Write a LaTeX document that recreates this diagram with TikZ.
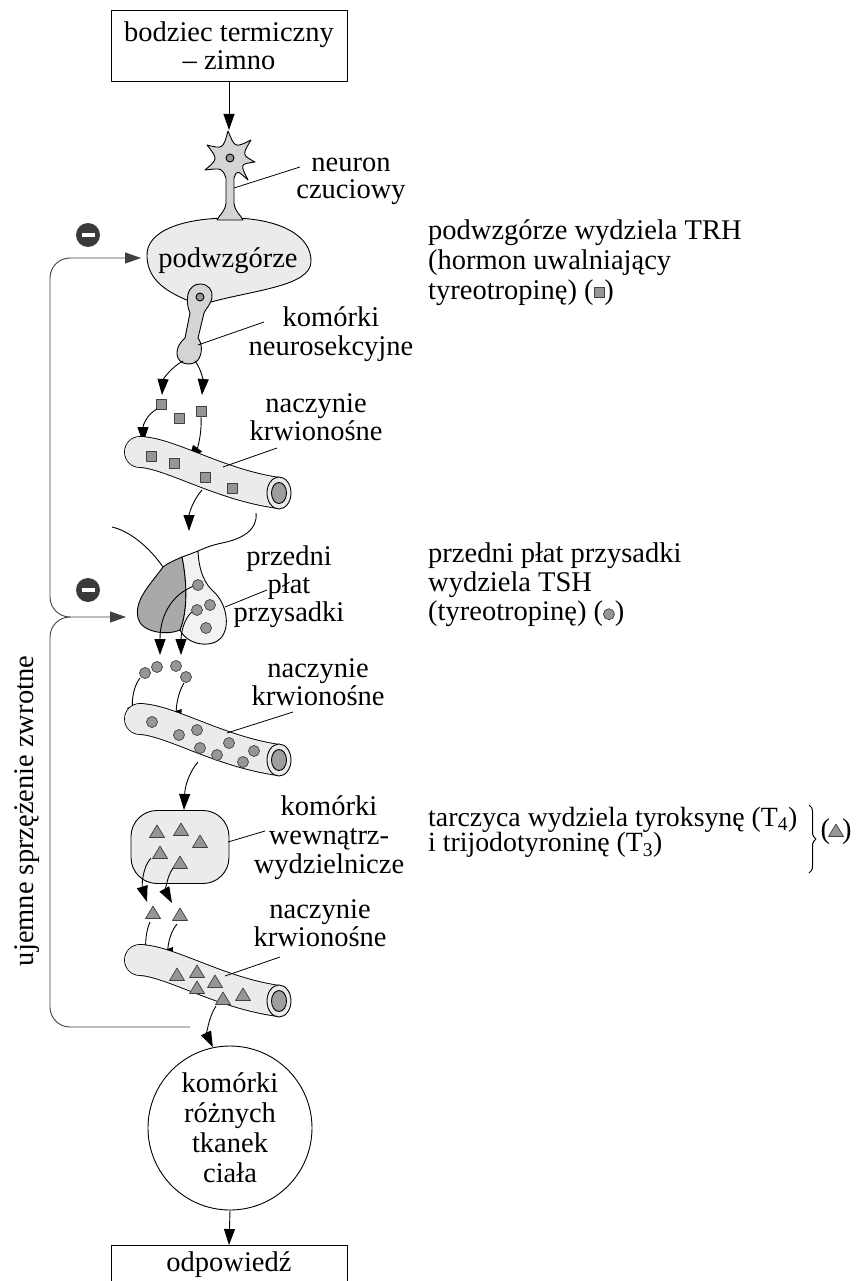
\documentclass[tikz,border=0pt]{standalone}
\usepackage{fontspec}
\setmainfont{Liberation Serif}
\usetikzlibrary{arrows.meta,calc,decorations.pathreplacing}

\definecolor{pale}{HTML}{EBEBEB}
\definecolor{cellgray}{HTML}{D4D4D4}
\definecolor{lobelight}{HTML}{F2F2F2}
\definecolor{lobedark}{HTML}{A9A9A9}
\definecolor{grain}{HTML}{969696}
\definecolor{lumen}{HTML}{9E9E9E}
\definecolor{minusdark}{HTML}{3A3A3A}

\tikzset{
  ol/.style={line width=0.9pt},
  grainstyle/.style={line width=0.7pt, draw=black!75, fill=grain},
  txt/.style={font=\fontsize{28.5}{#1}\selectfont, inner sep=0pt},
  txt/.default=29,
  arr/.style={line width=0.9pt, -{Triangle[length=16pt,width=11pt]}},
  lead/.style={line width=0.8pt},
  fb/.style={line width=1pt, draw=black!75, rounded corners=20pt},
}

\newcommand\topstrut{\rule{0pt}{20pt}}
% hormone particles (y grows downwards)
\newcommand\hsq[2]{\draw[grainstyle] (#1-5,#2-5) rectangle (#1+5,#2+5);}
\newcommand\hci[2]{\draw[grainstyle] (#1,#2) circle (5.5);}
\newcommand\htr[2]{\draw[grainstyle] (#1,#2-7) -- (#1+7.5,#2+5.5) -- (#1-7.5,#2+5.5) -- cycle;}
% blood vessel, moved down by #1
\newcommand\vessel[1]{%
  \begin{scope}[shift={(0,#1)}]
    \draw[ol, fill=pale] (140,452) circle (15.45);
    \draw[line width=31.8pt] (140,452) .. controls (170,453) and (220,485) .. (279,493);
    \draw[line width=30pt, pale] (140,452) .. controls (170,453) and (220,485) .. (279,493);
    \fill[pale] (140,452) circle (15);
    \draw[ol, fill=pale] (279,493) ellipse (12 and 16);
    \draw[ol, fill=lumen] (279,493) ellipse (7.5 and 10.5);
  \end{scope}}

\begin{document}
\begin{tikzpicture}[x=1pt,y=-1pt,line join=round]
\useasboundingbox (0,0) rectangle (855,1281);
\clip (0,0) rectangle (855,1281);

% ---------- stimulus ----------
\node[txt=28, draw, ol, minimum width=236pt, minimum height=71pt, align=center]
  (stim) at (229,45.5) {\topstrut bodziec termiczny\\– zimno};
\coordinate (neuronTop) at (229,130);
\draw[arr] (stim.south) -- (neuronTop);

% ---------- hypothalamus ----------
\draw[ol, fill=pale] (147,257) .. controls (145,230) and (185,218) .. (230,218)
  .. controls (280,218) and (312,236) .. (311,262)
  .. controls (310,286) and (255,290) .. (211,302)
  -- (189,301) .. controls (170,293) and (148,282) .. (147,257) -- cycle;
\node[txt, anchor=base] (hypo) at (228,267) {podwzgórze};
\coordinate (hypoIn) at (141,258);

% sensory neuron
\draw[ol, fill=cellgray] (228,131) .. controls (235,148) .. (251,140)
  .. controls (242,155) .. (255,162)
  .. controls (240,164) .. (248,180)
  .. controls (237,170) .. (234,178) -- (234,203)
  .. controls (235,212) and (240,214) .. (243,220) -- (217,220)
  .. controls (220,214) and (225,212) .. (226,203) -- (226,178)
  .. controls (222,168) .. (205,170)
  .. controls (218,159) .. (207,145)
  .. controls (223,149) .. (228,131) -- cycle;
\draw[ol, fill=grain] (230,158) circle (4);
\coordinate (nrnPt) at (234,188);
\coordinate (nrnLblPt) at (300,167);
\draw[lead] (nrnPt) -- (nrnLblPt);
\node[txt=27, anchor=north, align=center] (nrnLbl) at (351,151) {\topstrut neuron\\czuciowy};

% neurosecretory cell
\draw[ol, fill=cellgray] (200,284) .. controls (208,284) and (213,290) .. (212,297)
  .. controls (211,305) and (206,308) .. (204,313) -- (198,338)
  .. controls (202,343) and (203,353) .. (198,360)
  .. controls (193,366) and (181,365) .. (178,358)
  .. controls (175,351) and (179,343) .. (185,338) -- (190,313)
  .. controls (187,307) and (187,299) .. (188,294)
  .. controls (190,287) and (195,284) .. (200,284) -- cycle;
\draw[ol, fill=grain] (200,297) circle (4);
\coordinate (nsPt) at (198,345);
\coordinate (nsLblPt) at (264,322);
\draw[lead] (nsPt) -- (nsLblPt);
\node[txt, anchor=north, align=center] (nsLbl) at (331,306) {\topstrut komórki\\neurosekcyjne};

% TRH release
\draw[arr] (183,361) .. controls (170,368) and (163,380) .. (162,395);
\draw[arr] (195,361) .. controls (202,370) and (203,382) .. (202,395);
\hsq{161}{404} \hsq{179}{418} \hsq{201}{411}
\draw[arr] (157,409) .. controls (146,415) and (143,426) .. (143,443);
\draw[arr] (201,417) .. controls (202,435) and (197,449) .. (188,461);

% ---------- vessel 1 ----------
\vessel{0}
\hsq{151}{456} \hsq{174}{463} \hsq{205}{477} \hsq{232}{488}
\coordinate (v1Pt) at (223,467);
\coordinate (v1LblPt) at (277,448);
\draw[lead] (v1Pt) -- (v1LblPt);
\node[txt=28, anchor=north, align=center] (v1Lbl) at (316,392) {\topstrut naczynie\\krwionośne};
\coordinate (v1Out) at (202,490);
\coordinate (pitIn) at (189,531);
\draw[arr] (v1Out) .. controls (193,500) and (189,514) .. (pitIn);

% ---------- anterior pituitary ----------
\draw[ol] (112,527) .. controls (130,531) and (150,548) .. (163,567);
\draw[ol] (256,513) .. controls (258,530) and (242,539) .. (222,543)
  .. controls (208,546) and (203,549) .. (198,551);
\draw[ol, fill=lobedark] (163,567) .. controls (150,585) and (134,600) .. (138,618)
  .. controls (141,632) and (166,636) .. (180,630)
  .. controls (188,612) and (187,580) .. (182,557)
  .. controls (175,560) and (168,563) .. (163,567) -- cycle;
\draw[ol, fill=lobelight] (182,557) .. controls (188,555) and (193,553) .. (198,551)
  .. controls (199,572) and (205,584) .. (214,592)
  .. controls (226,603) and (231,626) .. (221,638)
  .. controls (212,648) and (188,646) .. (180,630)
  .. controls (188,612) and (187,580) .. (182,557) -- cycle;
\hci{198}{585} \hci{210}{605} \hci{197}{610} \hci{206}{628}
\draw[arr] (192.6,586.5) .. controls (172,595) and (160,615) .. (160,655);
\draw[arr] (191.7,612) .. controls (183,620) and (181,635) .. (181,655);
\coordinate (pitPt) at (225,607);
\coordinate (pitLblPt) at (267,590);
\draw[lead] (pitPt) -- (pitLblPt);
\node[txt=28, anchor=north, align=center] (pitLbl) at (289,545) {\topstrut przedni\\płat\\przysadki};

% TSH release
\hci{145}{673} \hci{157}{667} \hci{176}{666} \hci{186}{677}
\draw[arr] (140,678) .. controls (132,688) and (132,705) .. (138,721);
\draw[arr] (184,683) .. controls (177,694) and (176,710) .. (181,726);

% ---------- vessel 2 ----------
\vessel{267}
\hci{152}{722} \hci{179}{735} \hci{197}{730} \hci{200}{748}
\hci{217}{755} \hci{229}{743} \hci{243}{762} \hci{254}{751}
\coordinate (v2Pt) at (227,733);
\coordinate (v2LblPt) at (293,712);
\draw[lead] (v2Pt) -- (v2LblPt);
\node[txt=28, anchor=north, align=center] (v2Lbl) at (318,657) {\topstrut naczynie\\krwionośne};

% ---------- thyroid cells ----------
\node[draw, ol, fill=pale, rounded corners=26pt, minimum width=98pt, minimum height=73pt, inner sep=0pt]
  (endo) at (180,847) {};
\coordinate (v2Out) at (198,762);
\coordinate (endoIn) at (184,810);
\draw[arr] (v2Out) .. controls (190,771) and (185,785) .. (endoIn);
\htr{157}{832} \htr{181}{830} \htr{200}{842} \htr{160}{853} \htr{180}{863}
\coordinate (endoPt) at (228,842);
\coordinate (endoLblPt) at (265,831);
\draw[lead] (endoPt) -- (endoLblPt);
\node[txt, anchor=north, align=center] (endoLbl) at (329,795) {\topstrut komórki\\wewnątrz-\\wydzielnicze};

% T3/T4 release
\draw[arr] (151,858) .. controls (142,868) and (142,886) .. (147,902);
\draw[arr] (173,868) .. controls (166,878) and (166,892) .. (172,903);
\htr{153}{913} \htr{180}{915}
\draw[arr] (150,922) .. controls (144,935) and (146,952) .. (152,966);
\draw[arr] (177,924) .. controls (168,935) and (168,950) .. (173,964);

% ---------- vessel 3 ----------
\vessel{508}
\htr{177}{975} \htr{197}{972} \htr{197}{988} \htr{215}{982} \htr{223}{999} \htr{243}{995}
\coordinate (v3Pt) at (225,976);
\coordinate (v3LblPt) at (280,957);
\draw[lead] (v3Pt) -- (v3LblPt);
\node[txt=28, anchor=north, align=center] (v3Lbl) at (320,898) {\topstrut naczynie\\krwionośne};

% ---------- target tissues and response ----------
\node[txt=30, draw, ol, circle, minimum size=164pt, align=center]
  (cells) at (230,1128) {\topstrut komórki\\różnych\\tkanek\\ciała};
\coordinate (v3Out) at (216,1006);
\draw[arr] (v3Out) .. controls (208,1018) and (207,1035) .. (cells.102);
\node[txt, draw, ol, anchor=north, minimum width=236pt, text height=20pt, text depth=40pt, inner ysep=6pt]
  (resp) at (229,1245) {odpowiedź};
\draw[arr] (cells.south) -- (resp.north);

% ---------- negative feedback ----------
\coordinate (fbStart) at (190,1027);
\coordinate (fbJoin) at (70,617);
\coordinate (pitInL) at (126,617);
\draw[fb, arr] (fbStart) -| (50,617) -- (pitInL);
\draw[fb, arr] (fbJoin) -| (50,258) -- (hypoIn);
\node[circle, fill=minusdark, minimum size=24pt, inner sep=0pt] (minusA) at (88,235) {};
\fill[white] ($(minusA)+(-6.5,-1.8)$) rectangle ($(minusA)+(6.5,1.8)$);
\node[circle, fill=minusdark, minimum size=24pt, inner sep=0pt] (minusB) at (88,590) {};
\fill[white] ($(minusB)+(-6.5,-1.8)$) rectangle ($(minusB)+(6.5,1.8)$);
\node[txt, rotate=90, anchor=base] (fbTxt) at (33,811) {ujemne sprzężenie zwrotne};

% ---------- descriptions ----------
\node[txt=30, anchor=north west, align=left] (trhTxt) at (428,219)
  {\topstrut podwzgórze wydziela TRH\\(hormon uwalniający\\tyreotropinę)
   (\tikz[x=1pt,y=1pt,baseline=-1.5pt]\draw[grainstyle] (0,0) rectangle (10,10);)};
\node[txt=29, anchor=north west, align=left] (tshTxt) at (428,542)
  {\topstrut przedni płat przysadki\\wydziela TSH\\(tyreotropinę)
   (\tikz[x=1pt,y=1pt,baseline=-6pt]\draw[grainstyle] (0,0) circle (5.5);)};
\node[font={\fontsize{27.8}{25.5}\selectfont\lineskiplimit=-100pt}, inner sep=0pt, anchor=north west, align=left]
  (thyTxt) at (428,806)
  {\topstrut tarczyca wydziela tyroksynę (T\textsubscript{4})\\i trijodotyroninę (T\textsubscript{3})};
\coordinate (brTop) at (809,805);
\coordinate (brBot) at (809,873);
\draw[decorate, decoration={brace, amplitude=7pt}, line width=1pt] (brTop) -- (brBot);
\node[txt, anchor=base] (thySym) at (836,838) {(\hspace{12pt})};
\htr{836}{831}
\end{tikzpicture}
\end{document}
